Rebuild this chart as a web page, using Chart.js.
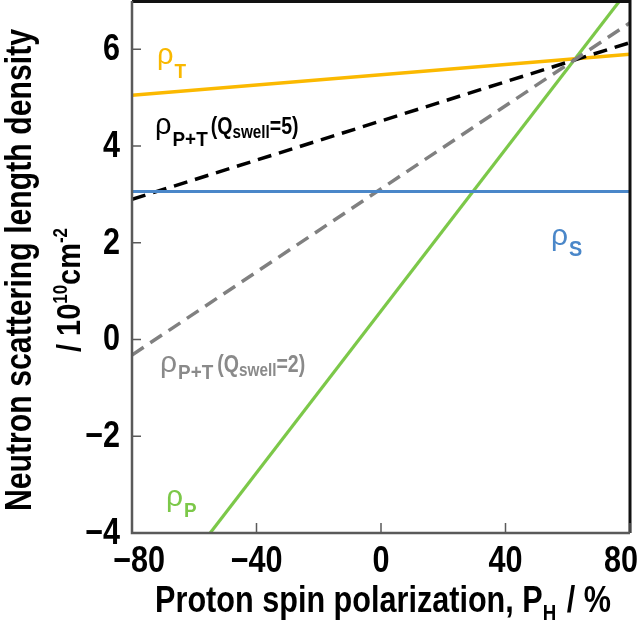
<!DOCTYPE html>
<html lang="en">
<head>
  <meta charset="UTF-8">
  <title>Neutron scattering length density vs proton spin polarization</title>
  <script src="https://cdn.jsdelivr.net/npm/chart.js"></script>
  <style>
    body { margin: 0; background: #fff; }
    canvas { display: block; }
  </style>
</head>
<body>
  <canvas id="chart" width="640" height="627"></canvas>

  <script>
    // data (line end points at P_H = -80 and +80 %)
    const polarization = [-80, 80];
    const rhoT = [5.05, 5.90];
    const rhoS = [3.06, 3.06];
    const rhoP = [-6.10, 7.28];
    const rhoPT5 = [2.90, 6.14];   // Q_swell = 5
    const rhoPT2 = [-0.32, 6.55];  // Q_swell = 2

    const xTicks = [-80, -40, 0, 40, 80];
    const yTicks = [-4, -2, 0, 2, 4, 6];

    const SANS = '"Liberation Sans", Arial, sans-serif';
    const NARROW = 0.85; // horizontal squeeze to mimic Arial Narrow

    const toPoints = vals => vals.map((v, i) => ({ x: polarization[i], y: v }));
    const minus = v => String(v).replace('-', '\u2212');

    // text drawn squeezed horizontally by sx
    function squeezed(ctx, str, x, y, font, sx, align) {
      ctx.save();
      ctx.font = font;
      const w = ctx.measureText(str).width * sx;
      let x0 = x;
      if (align === 'center') x0 = x - w / 2;
      else if (align === 'right') x0 = x - w;
      ctx.translate(x0, y);
      ctx.scale(sx, 1);
      ctx.textAlign = 'left';
      ctx.fillText(str, 0, 0);
      ctx.restore();
      return w;
    }

    // draws a run of text pieces one after another (for sub/superscripts)
    function drawRuns(ctx, x, y, runs, color) {
      ctx.fillStyle = color;
      ctx.textBaseline = 'alphabetic';
      let cx = x;
      runs.forEach(r => {
        cx += squeezed(ctx, r.t, cx, y + (r.dy || 0), r.font, r.sx || 1, 'left') + (r.gap || 0);
      });
      return cx - x;
    }

    function runsWidth(ctx, runs) {
      let w = 0;
      runs.forEach(r => {
        ctx.font = r.font;
        w += ctx.measureText(r.t).width * (r.sx || 1) + (r.gap || 0);
      });
      return w;
    }

    const framePlugin = {
      id: 'frame',
      afterDatasetsDraw(chart) {
        const { ctx, chartArea: a, scales } = chart;
        ctx.save();
        // top and right border
        ctx.strokeStyle = '#111';
        ctx.lineWidth = 3;
        ctx.beginPath();
        ctx.moveTo(a.left, a.top + 0.5);
        ctx.lineTo(a.right, a.top + 0.5);
        ctx.lineTo(a.right, a.bottom);
        ctx.stroke();
        // left and bottom axis
        ctx.strokeStyle = '#5a5a5a';
        ctx.lineWidth = 2.5;
        ctx.beginPath();
        ctx.moveTo(a.left, a.top);
        ctx.lineTo(a.left, a.bottom);
        ctx.lineTo(a.right, a.bottom);
        ctx.stroke();
        // inner tick marks
        ctx.lineWidth = 1.5;
        ctx.beginPath();
        yTicks.forEach(v => {
          const y = scales.y.getPixelForValue(v);
          ctx.moveTo(a.left, y);
          ctx.lineTo(a.left + 9, y);
        });
        xTicks.forEach(v => {
          const x = scales.x.getPixelForValue(v);
          ctx.moveTo(x, a.bottom);
          ctx.lineTo(x, a.bottom - 10);
        });
        ctx.stroke();

        // tick labels
        ctx.fillStyle = '#000';
        ctx.textBaseline = 'middle';
        const tickFont = 'bold 36px ' + SANS;
        yTicks.forEach(v => {
          squeezed(ctx, minus(v), a.left - 12, scales.y.getPixelForValue(v) + 1, tickFont, NARROW, 'right');
        });
        xTicks.forEach((v, i) => {
          let x = scales.x.getPixelForValue(v);
          if (i === 0) x += 7;
          if (i === xTicks.length - 1) x -= 9;
          squeezed(ctx, minus(v), x, a.bottom + 29, tickFont, NARROW, 'center');
        });
        ctx.restore();
      }
    };

    const labelPlugin = {
      id: 'labels',
      afterDraw(chart) {
        const { ctx } = chart;
        ctx.save();
        const B = 'bold ';

        // series labels
        drawRuns(ctx, 157, 64, [
          { t: '\u03c1', font: '29px ' + SANS, gap: 1 },
          { t: 'T', font: B + '21px ' + SANS, dy: 14, sx: 0.9 }
        ], '#f9b800');

        drawRuns(ctx, 155, 134, [
          { t: '\u03c1', font: '29px ' + SANS, gap: 1 },
          { t: 'P+T', font: B + '21px ' + SANS, dy: 12, sx: 0.9, gap: 3 },
          { t: '(Q', font: B + '23px ' + SANS, sx: NARROW },
          { t: 'swell', font: B + '18px ' + SANS, dy: 4, sx: NARROW },
          { t: '=5)', font: B + '23px ' + SANS, sx: NARROW }
        ], '#000');

        drawRuns(ctx, 160, 372, [
          { t: '\u03c1', font: '30px ' + SANS, gap: 1 },
          { t: 'P+T', font: B + '21px ' + SANS, dy: 7, sx: 0.9, gap: 4 },
          { t: '(Q', font: B + '23px ' + SANS, sx: NARROW },
          { t: 'swell', font: B + '18px ' + SANS, dy: 4, sx: NARROW },
          { t: '=2)', font: B + '23px ' + SANS, sx: NARROW }
        ], '#8a8a8a');

        drawRuns(ctx, 551, 245, [
          { t: '\u03c1', font: '30px ' + SANS, gap: 1 },
          { t: 'S', font: B + '22px ' + SANS, dy: 11, sx: 0.9 }
        ], '#4a87c9');

        drawRuns(ctx, 166, 506, [
          { t: '\u03c1', font: '30px ' + SANS, gap: 1 },
          { t: 'P', font: B + '21px ' + SANS, dy: 11, sx: 0.9 }
        ], '#7cc849');

        // x axis title
        const xRuns = [
          { t: 'Proton spin polarization, P', font: B + '36px ' + SANS, sx: NARROW },
          { t: 'H', font: B + '22px ' + SANS, dy: 8, sx: NARROW, gap: 2 },
          { t: ' / %', font: B + '36px ' + SANS, sx: NARROW }
        ];
        const xw = runsWidth(ctx, xRuns);
        drawRuns(ctx, 383 - xw / 2, 612, xRuns, '#000');

        // y axis title (two lines, rotated)
        ctx.save();
        ctx.translate(31, 270);
        ctx.rotate(-Math.PI / 2);
        ctx.fillStyle = '#000';
        ctx.textBaseline = 'alphabetic';
        squeezed(ctx, 'Neutron scattering length density', 0, 0, B + '36px ' + SANS, 0.84, 'center');
        ctx.restore();

        ctx.save();
        ctx.translate(80, 290);
        ctx.rotate(-Math.PI / 2);
        const yRuns = [
          { t: '/ 10', font: B + '34px ' + SANS, sx: NARROW },
          { t: '10', font: B + '20px ' + SANS, dy: -13, sx: NARROW },
          { t: 'cm', font: B + '34px ' + SANS, sx: NARROW },
          { t: '-2', font: B + '20px ' + SANS, dy: -13, sx: NARROW }
        ];
        const yw = runsWidth(ctx, yRuns);
        drawRuns(ctx, -yw / 2, 0, yRuns, '#000');
        ctx.restore();

        ctx.restore();
      }
    };

    const lineDataset = (vals, color, width, dash) => ({
      data: toPoints(vals),
      showLine: true,
      borderColor: color,
      borderWidth: width,
      borderDash: dash || [],
      pointRadius: 0,
      fill: false
    });

    const noPad = s => {
      s.paddingTop = 0; s.paddingBottom = 0; s.paddingLeft = 0; s.paddingRight = 0;
    };

    new Chart(document.getElementById('chart'), {
      type: 'scatter',
      data: {
        datasets: [
          lineDataset(rhoS, '#4a87c9', 3),
          lineDataset(rhoPT2, '#808080', 3.5, [14, 8]),
          lineDataset(rhoPT5, '#000', 3.5, [14, 8]),
          lineDataset(rhoT, '#fbb900', 3.5),
          lineDataset(rhoP, '#7cc849', 3.2)
        ]
      },
      options: {
        responsive: false,
        animation: false,
        devicePixelRatio: 1,
        layout: { padding: { top: 1, right: 10, left: 0, bottom: 0 } },
        plugins: { legend: { display: false }, tooltip: { enabled: false } },
        scales: {
          x: {
            type: 'linear',
            min: -80,
            max: 80,
            grid: { display: false, drawTicks: false },
            border: { display: false },
            ticks: { display: false },
            afterBuildTicks: s => { s.ticks = xTicks.map(v => ({ value: v })); },
            afterFit: s => { s.height = 94; noPad(s); }
          },
          y: {
            type: 'linear',
            min: -4,
            max: 7,
            grid: { display: false, drawTicks: false },
            border: { display: false },
            ticks: { display: false },
            afterBuildTicks: s => { s.ticks = yTicks.map(v => ({ value: v })); },
            afterFit: s => { s.width = 132; noPad(s); }
          }
        }
      },
      plugins: [framePlugin, labelPlugin]
    });
  </script>
</body>
</html>
